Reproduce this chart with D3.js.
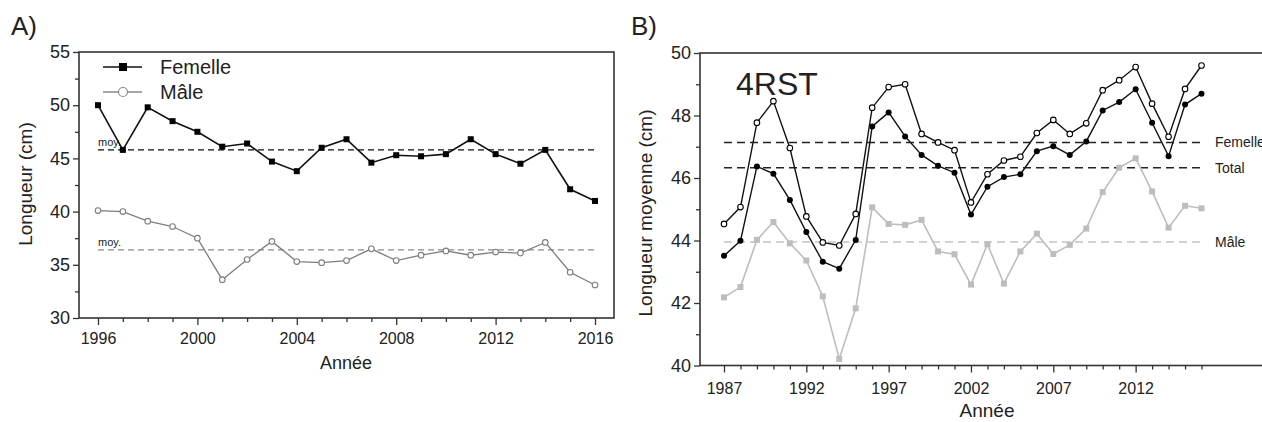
<!DOCTYPE html>
<html>
<head>
<meta charset="utf-8">
<script src="https://cdn.jsdelivr.net/npm/d3@7"></script>
<style>
  body { margin: 0; background: #fff; }
  svg text { font-family: "Liberation Sans", Arial, sans-serif; fill: #222; }
</style>
</head>
<body>
<div id="chart"></div>
<script>
// Panel A data
var yearsA = d3.range(1996, 2017);
var femelleA = [50.0, 45.8, 49.8, 48.5, 47.5, 46.1, 46.4, 44.7, 43.8, 46.0, 46.8, 44.6, 45.3, 45.2, 45.4, 46.8, 45.4, 44.5, 45.8, 42.1, 41.0];
var maleA = [40.1, 40.0, 39.1, 38.6, 37.5, 33.6, 35.5, 37.2, 35.3, 35.2, 35.4, 36.5, 35.4, 35.9, 36.3, 35.9, 36.2, 36.1, 37.1, 34.3, 33.1];
var meanA = [45.8, 36.4]; // femelle, mâle
var xLabelsA = [1996, 2000, 2004, 2008, 2012, 2016];
var yTicksA = [30, 35, 40, 45, 50, 55];

// Panel B data (4RST)
var yearsB = d3.range(1987, 2017);
var femelleB = [44.53, 45.07, 47.77, 48.46, 46.96, 44.77, 43.94, 43.84, 44.85, 48.25, 48.91, 49.00, 47.41, 47.14, 46.89,
  45.22, 46.12, 46.56, 46.68, 47.44, 47.86, 47.41, 47.75, 48.81, 49.13, 49.55, 48.38, 47.32, 48.85, 49.60];
var totalB = [43.51, 43.99, 46.37, 46.14, 45.30, 44.27, 43.32, 43.10, 44.02, 47.65, 48.10, 47.33, 46.74, 46.39, 46.17,
  44.83, 45.72, 46.03, 46.12, 46.86, 47.02, 46.74, 47.17, 48.16, 48.43, 48.84, 47.77, 46.70, 48.35, 48.70];
var maleB = [42.18, 42.51, 44.02, 44.59, 43.91, 43.36, 42.21, 40.21, 41.83, 45.06, 44.53, 44.50, 44.66, 43.65, 43.56,
  42.59, 43.88, 42.62, 43.65, 44.22, 43.57, 43.86, 44.38, 45.55, 46.33, 46.63, 45.57, 44.41, 45.11, 45.03];
var meanB = [47.14, 46.33, 43.95]; // femelle, total, mâle
var meanLabelsB = ["Femelle", "Total", "Mâle"];
var xLabelsB = [1987, 1992, 1997, 2002, 2007, 2012];
var yTicksB = [40, 42, 44, 46, 48, 50];

var svgWidth = 1262;
var svgHeight = 422;

var svg = d3.select("#chart")
  .append("svg")
  .attr("width", svgWidth)
  .attr("height", svgHeight);

var axisColor = "#333";

// ================= Panel A =================
var boxA = { left: 79, right: 614, top: 52, bottom: 318 };

var xA = d3.scaleLinear().domain([1996, 2016]).range([98, 595]);
var yA = d3.scaleLinear().domain([30, 55]).range([boxA.bottom, boxA.top]);

var gA = svg.append("g");

// x ticks: every year, labels every 4 years
var xAxisA = gA.append("g")
  .attr("transform", `translate(0, ${boxA.bottom})`)
  .call(d3.axisBottom(xA).tickValues(yearsA).tickSizeOuter(0)
    .tickFormat(d => xLabelsA.indexOf(d) >= 0 ? d : ""));
xAxisA.select(".domain").remove();
xAxisA.selectAll(".tick line")
  .attr("y2", d => xLabelsA.indexOf(d) >= 0 ? 7 : 4)
  .attr("stroke", axisColor).attr("stroke-width", 1.3);
xAxisA.selectAll(".tick text")
  .attr("y", 15).attr("font-size", "16px");

// y ticks: major every 5, minor halfway
var yAxisA = gA.append("g")
  .attr("transform", `translate(${boxA.left}, 0)`)
  .call(d3.axisLeft(yA).tickValues(d3.range(30, 55.1, 2.5)).tickSizeOuter(0)
    .tickFormat(d => yTicksA.indexOf(d) >= 0 ? d : ""));
yAxisA.select(".domain").remove();
yAxisA.selectAll(".tick line")
  .attr("x2", d => yTicksA.indexOf(d) >= 0 ? -6 : -4)
  .attr("stroke", axisColor).attr("stroke-width", 1.3);
yAxisA.selectAll(".tick text")
  .attr("x", -9).attr("font-size", "18px");

// frame
gA.append("rect")
  .attr("x", boxA.left).attr("y", boxA.top)
  .attr("width", boxA.right - boxA.left)
  .attr("height", boxA.bottom - boxA.top)
  .attr("fill", "none")
  .attr("stroke", axisColor)
  .attr("stroke-width", 1.6);

// mean lines
gA.append("line")
  .attr("x1", xA(1996)).attr("x2", xA(2016))
  .attr("y1", yA(meanA[0])).attr("y2", yA(meanA[0]))
  .attr("stroke", "#111").attr("stroke-width", 1.4)
  .attr("stroke-dasharray", "6,4");
gA.append("line")
  .attr("x1", xA(1996)).attr("x2", xA(2016))
  .attr("y1", yA(meanA[1])).attr("y2", yA(meanA[1]))
  .attr("stroke", "#8a8a8a").attr("stroke-width", 1.3)
  .attr("stroke-dasharray", "6,4");

gA.append("text")
  .attr("x", xA(1996)).attr("y", yA(meanA[0]) - 4)
  .attr("font-size", "11px")
  .text("moy.");
gA.append("text")
  .attr("x", xA(1996)).attr("y", yA(meanA[1]) - 4)
  .attr("font-size", "11px")
  .text("moy.");

// series lines
var lineA = d3.line()
  .x((d, i) => xA(yearsA[i]))
  .y(d => yA(d));

gA.append("path")
  .datum(maleA)
  .attr("d", lineA)
  .attr("fill", "none")
  .attr("stroke", "#7d7d7d")
  .attr("stroke-width", 1.3);

gA.selectAll(".maleA")
  .data(maleA)
  .enter()
  .append("circle")
  .attr("class", "maleA")
  .attr("cx", (d, i) => xA(yearsA[i]))
  .attr("cy", d => yA(d))
  .attr("r", 2.8)
  .attr("fill", "white")
  .attr("stroke", "#7d7d7d")
  .attr("stroke-width", 1.1);

gA.append("path")
  .datum(femelleA)
  .attr("d", lineA)
  .attr("fill", "none")
  .attr("stroke", "#111")
  .attr("stroke-width", 1.6);

gA.selectAll(".femA")
  .data(femelleA)
  .enter()
  .append("rect")
  .attr("class", "femA")
  .attr("x", (d, i) => xA(yearsA[i]) - 3)
  .attr("y", d => yA(d) - 3)
  .attr("width", 6)
  .attr("height", 6)
  .attr("fill", "#000");

// legend
var legA = gA.append("g");
legA.append("line")
  .attr("x1", 103).attr("x2", 142).attr("y1", 67).attr("y2", 67)
  .attr("stroke", "#111").attr("stroke-width", 1.6);
legA.append("rect")
  .attr("x", 119).attr("y", 63).attr("width", 8).attr("height", 8)
  .attr("fill", "#000");
legA.append("text")
  .attr("x", 160).attr("y", 74).attr("font-size", "20px")
  .text("Femelle");
legA.append("line")
  .attr("x1", 103).attr("x2", 142).attr("y1", 92).attr("y2", 92)
  .attr("stroke", "#8a8a8a").attr("stroke-width", 1.3);
legA.append("circle")
  .attr("cx", 123).attr("cy", 92).attr("r", 4.5)
  .attr("fill", "white").attr("stroke", "#8a8a8a").attr("stroke-width", 1.2);
legA.append("text")
  .attr("x", 160).attr("y", 99).attr("font-size", "20px")
  .text("Mâle");

// titles
gA.append("text")
  .attr("x", 11).attr("y", 35).attr("font-size", "26px")
  .text("A)");
gA.append("text")
  .attr("transform", "rotate(-90)")
  .attr("x", -184).attr("y", 32)
  .attr("text-anchor", "middle")
  .attr("font-size", "19px")
  .text("Longueur (cm)");
gA.append("text")
  .attr("x", 346).attr("y", 369)
  .attr("text-anchor", "middle")
  .attr("font-size", "18px")
  .text("Année");

// ================= Panel B =================
var boxB = { left: 700, right: 1300, top: 53, bottom: 365.5 };

var xB = d3.scaleLinear().domain([1987, 2016]).range([724, 1201.5]);
var yB = d3.scaleLinear().domain([40, 50]).range([boxB.bottom, boxB.top]);

var gB = svg.append("g");

var xAxisB = gB.append("g")
  .attr("transform", `translate(0, ${boxB.bottom})`)
  .call(d3.axisBottom(xB).tickValues(yearsB).tickSizeOuter(0)
    .tickFormat(d => xLabelsB.indexOf(d) >= 0 ? d : ""));
xAxisB.select(".domain").remove();
xAxisB.selectAll(".tick line")
  .attr("y2", d => xLabelsB.indexOf(d) >= 0 ? 7 : 4)
  .attr("stroke", axisColor).attr("stroke-width", 1.3);
xAxisB.selectAll(".tick text")
  .attr("y", 17).attr("font-size", "16px");

var yAxisB = gB.append("g")
  .attr("transform", `translate(${boxB.left}, 0)`)
  .call(d3.axisLeft(yB).tickValues(d3.range(40, 50.1, 1)).tickSizeOuter(0)
    .tickFormat(d => yTicksB.indexOf(d) >= 0 ? d : ""));
yAxisB.select(".domain").remove();
yAxisB.selectAll(".tick line")
  .attr("x2", d => yTicksB.indexOf(d) >= 0 ? -6 : -4)
  .attr("stroke", axisColor).attr("stroke-width", 1.3);
yAxisB.selectAll(".tick text")
  .attr("x", -9).attr("font-size", "18px");

// frame (right edge falls outside the picture)
gB.append("rect")
  .attr("x", boxB.left).attr("y", boxB.top)
  .attr("width", boxB.right - boxB.left)
  .attr("height", boxB.bottom - boxB.top)
  .attr("fill", "none")
  .attr("stroke", axisColor)
  .attr("stroke-width", 1.6);

// mean lines with labels
var meanColorsB = ["#222", "#222", "#c4c4c4"];
meanB.forEach(function(m, i) {
  gB.append("line")
    .attr("x1", xB(1987)).attr("x2", xB(2016))
    .attr("y1", yB(m)).attr("y2", yB(m))
    .attr("stroke", meanColorsB[i]).attr("stroke-width", 1.5)
    .attr("stroke-dasharray", "8,5");
  gB.append("text")
    .attr("x", 1215).attr("y", yB(m) + 5)
    .attr("font-size", "14px")
    .text(meanLabelsB[i]);
});

var lineB = d3.line()
  .x((d, i) => xB(yearsB[i]))
  .y(d => yB(d));

// mâle: grey squares
gB.append("path")
  .datum(maleB)
  .attr("d", lineB)
  .attr("fill", "none")
  .attr("stroke", "#bdbdbd")
  .attr("stroke-width", 1.6);
gB.selectAll(".maleB")
  .data(maleB)
  .enter()
  .append("rect")
  .attr("class", "maleB")
  .attr("x", (d, i) => xB(yearsB[i]) - 3)
  .attr("y", d => yB(d) - 3)
  .attr("width", 6)
  .attr("height", 6)
  .attr("fill", "#bdbdbd");

// total: filled circles
gB.append("path")
  .datum(totalB)
  .attr("d", lineB)
  .attr("fill", "none")
  .attr("stroke", "#111")
  .attr("stroke-width", 1.4);
gB.selectAll(".totB")
  .data(totalB)
  .enter()
  .append("circle")
  .attr("class", "totB")
  .attr("cx", (d, i) => xB(yearsB[i]))
  .attr("cy", d => yB(d))
  .attr("r", 3)
  .attr("fill", "#000");

// femelle: open circles
gB.append("path")
  .datum(femelleB)
  .attr("d", lineB)
  .attr("fill", "none")
  .attr("stroke", "#111")
  .attr("stroke-width", 1.4);
gB.selectAll(".femB")
  .data(femelleB)
  .enter()
  .append("circle")
  .attr("class", "femB")
  .attr("cx", (d, i) => xB(yearsB[i]))
  .attr("cy", d => yB(d))
  .attr("r", 2.8)
  .attr("fill", "white")
  .attr("stroke", "#000")
  .attr("stroke-width", 1.1);

// titles
gB.append("text")
  .attr("x", 631).attr("y", 35).attr("font-size", "26px")
  .text("B)");
gB.append("text")
  .attr("x", 736).attr("y", 95).attr("font-size", "32px")
  .text("4RST");
gB.append("text")
  .attr("transform", "rotate(-90)")
  .attr("x", -213).attr("y", 652)
  .attr("text-anchor", "middle")
  .attr("font-size", "19px")
  .text("Longueur moyenne (cm)");
gB.append("text")
  .attr("x", 987).attr("y", 417)
  .attr("text-anchor", "middle")
  .attr("font-size", "19px")
  .text("Année");
</script>
</body>
</html>
